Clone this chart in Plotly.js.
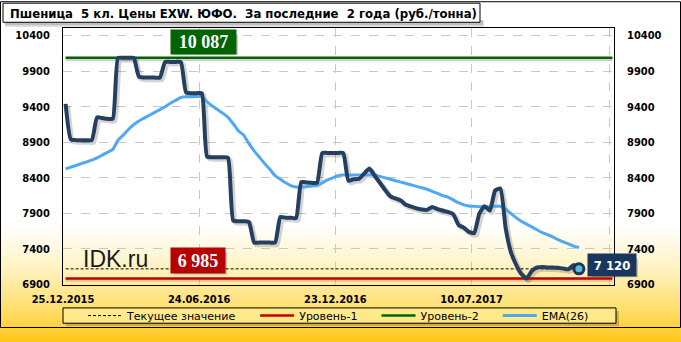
<!DOCTYPE html>
<html>
<head>
<meta charset="utf-8">
<script src="https://cdn.plot.ly/plotly-3.0.1.min.js"></script>
<style>
html, body { margin: 0; padding: 0; }
#chart {
  width: 681px; height: 342px;
  background: linear-gradient(to bottom, #ffffff 0%, #ffffff 66%, #fff3c4 78%, #ffdf6e 90%, #ffc61a 100%);
}
</style>
</head>
<body>
<div id="chart"></div>
<script>
// ---- data (weekly) ----
const tickLabels = ['25.12.2015', '24.06.2016', '23.12.2016', '10.07.2017', ''];
const tickPositions = [-0.5, 25.5, 51.5, 77.5, 103.8];

const price = [
  9440, 8940, 8930, 8930, 8930, 8930, 9250, 9240, 9230, 9230,
  10087, 10087, 10087, 10087, 9820, 9810, 9810, 9810, 9810, 10030,
  10030, 10030, 10030, 9600, 9590, 9590, 9590, 8700, 8690, 8690,
  8690, 8680, 7800, 7790, 7790, 7780, 7490, 7490, 7490, 7490,
  7490, 7850, 7840, 7840, 7835, 8340, 8335, 8330, 8330, 8750,
  8750, 8750, 8750, 8750, 8360, 8380, 8385, 8460, 8530, 8430,
  8330, 8230, 8140, 8110, 8080, 8020, 7995, 7970, 7955, 7950,
  7990, 7960, 7940, 7920, 7890, 7740, 7700, 7640, 7625, 7900,
  8000, 7940, 8220, 8250, 7700, 7360, 7180, 7050, 6985, 7090,
  7140, 7145, 7140, 7140, 7135, 7125, 7115, 7175, 7120
];

const ema26 = [
  8525, 8550, 8575, 8600, 8625, 8650, 8680, 8720, 8760, 8800,
  8930, 9000, 9080, 9150, 9200, 9240, 9280, 9320, 9360, 9400,
  9450, 9490, 9530, 9540, 9540, 9545, 9545, 9470, 9410, 9360,
  9310, 9250, 9160, 9060, 9000, 8880, 8780, 8690, 8600, 8520,
  8430, 8380, 8330, 8290, 8270, 8270, 8275, 8285, 8295, 8330,
  8370, 8400, 8430, 8440, 8440, 8440, 8440, 8440, 8440, 8440,
  8420, 8400, 8380, 8360, 8340, 8320, 8300, 8280, 8260, 8240,
  8210, 8180, 8150, 8130, 8090, 8050, 8020, 8005, 8000, 7995,
  7995, 7995, 8000, 8000, 7960, 7900, 7840, 7790, 7750, 7710,
  7670, 7630, 7600, 7570, 7530, 7500, 7470, 7440, 7420
];

const level1 = 6985;   // Уровень-1
const level2 = 10087;  // Уровень-2
const currentValue = 7120;
const yTicks = [6900, 7400, 7900, 8400, 8900, 9400, 9900, 10400];
const yTickLabels = ['6900', '7400', '7900', '8400', '8900', '9400', '9900', '10400'];
const legendNames = ['Текущее значение', 'Уровень-1', 'Уровень-2', 'EMA(26)'];

// ---- layout helpers ----
const W = 681, H = 342;
const M = { l: 63, r: 67, t: 28, b: 45 };
const PW = W - M.l - M.r, PH = H - M.t - M.b;
const px = v => (v - M.l) / PW;        // pixel x -> paper
const py = v => (H - M.b - v) / PH;    // pixel y -> paper

const idx = price.map((_, i) => i);
const lastIdx = idx[idx.length - 1];
const levelEnd = 104.4;
const fmt = v => String(v).replace(/\B(?=(\d{3})+(?!\d))/g, ' ');
const pad = '\u00A0'.repeat(4);

const F = '"DejaVu Sans Condensed", "DejaVu Sans", sans-serif';

const traces = [
  // shadows
  { x: [0, levelEnd], y: [level2 - 25, level2 - 25], mode: 'lines', line: { color: 'rgba(0,0,0,0.18)', width: 3 }, showlegend: false, hoverinfo: 'skip' },
  { x: [0, levelEnd], y: [level1 - 25, level1 - 25], mode: 'lines', line: { color: 'rgba(0,0,0,0.15)', width: 3 }, showlegend: false, hoverinfo: 'skip' },
  { x: idx.map(i => i + 0.4), y: price.map(v => v - 30), mode: 'lines', line: { color: 'rgba(0,0,0,0.17)', width: 5, shape: 'spline', smoothing: 0.5 }, showlegend: false, hoverinfo: 'skip' },
  // legend traces
  { name: legendNames[0] + pad, x: [0, lastIdx], y: [currentValue, currentValue], mode: 'lines', line: { color: '#000000', width: 1, dash: '3px,2px' } },
  { name: legendNames[1] + pad, x: [0, levelEnd], y: [level1, level1], mode: 'lines', line: { color: '#c00000', width: 2.5 } },
  { name: legendNames[2] + pad, x: [0, levelEnd], y: [level2, level2], mode: 'lines', line: { color: '#006400', width: 2.5 } },
  { name: legendNames[3], x: idx, y: ema26, mode: 'lines', line: { color: '#4ea8f2', width: 3, shape: 'spline', smoothing: 0.6 } },
  // main price
  { name: 'Цена', x: idx, y: price, mode: 'lines', line: { color: '#243f60', width: 4, shape: 'spline', smoothing: 0.5 }, showlegend: false },
  // last point marker
  { x: [lastIdx], y: [price[lastIdx]], mode: 'markers', marker: { size: 10, color: '#5bbad8', line: { color: '#1b365d', width: 3 } }, showlegend: false, hoverinfo: 'skip' },
  // right axis carrier
  { x: [0], y: [yTicks[0]], yaxis: 'y2', mode: 'markers', marker: { opacity: 0 }, showlegend: false, hoverinfo: 'skip' }
];

const tickFont = { family: F, size: 11, color: '#000000', weight: 'bold' };

const layout = {
  width: W, height: H,
  margin: M,
  paper_bgcolor: 'rgba(0,0,0,0)',
  plot_bgcolor: 'rgba(0,0,0,0)',
  showlegend: true,
  xaxis: {
    range: [-0.5, 104.7],
    tickvals: tickPositions, ticktext: tickLabels,
    showgrid: true, gridcolor: '#c8c8c8', griddash: 'dash', gridwidth: 1,
    zeroline: false, showline: true, mirror: true, linecolor: '#000000', linewidth: 1,
    ticks: '', ticklabelstandoff: 4,
    tickfont: tickFont
  },
  yaxis: {
    range: [6893, 10507],
    tickvals: yTicks, ticktext: yTickLabels,
    showgrid: true, gridcolor: '#c8c8c8', griddash: 'dash', gridwidth: 1,
    zeroline: false, showline: true, mirror: true, linecolor: '#000000', linewidth: 1,
    ticks: '', ticklabelstandoff: 10,
    tickfont: tickFont
  },
  yaxis2: {
    overlaying: 'y', side: 'right',
    range: [6893, 10507],
    tickvals: yTicks, ticktext: yTickLabels,
    showgrid: false, zeroline: false, showline: false,
    ticks: '', ticklabelstandoff: 12,
    tickfont: tickFont
  },
  legend: {
    orientation: 'h',
    x: px(83), xanchor: 'left',
    y: py(329), yanchor: 'middle',
    bgcolor: 'rgba(0,0,0,0)', borderwidth: 0,
    font: { family: '"DejaVu Sans", sans-serif', size: 11, color: '#000000' },
    itemwidth: 34
  },
  shapes: [
    // outer border
    { type: 'rect', xref: 'paper', yref: 'paper', x0: px(0.5), x1: px(680.5), y0: py(341.5), y1: py(0.5), line: { color: '#000000', width: 1 }, layer: 'below' },
    // title box shadow + box
    { type: 'rect', xref: 'paper', yref: 'paper', x0: px(5), x1: px(484), y0: py(27), y1: py(20), line: { width: 0 }, fillcolor: 'rgba(0,0,0,0.12)', layer: 'below' },
    { type: 'rect', xref: 'paper', yref: 'paper', x0: px(5), x1: px(483), y0: py(25), y1: py(20), line: { width: 0 }, fillcolor: 'rgba(0,0,0,0.15)', layer: 'below' },
    { type: 'rect', xref: 'paper', yref: 'paper', x0: px(3), x1: px(480), y0: py(22), y1: py(2), line: { color: '#000000', width: 1 }, fillcolor: '#ffffff', layer: 'below' },
    // legend box shadow + box
    { type: 'rect', xref: 'paper', yref: 'paper', x0: px(66), x1: px(619), y0: py(340), y1: py(324), line: { width: 0 }, fillcolor: 'rgba(0,0,0,0.18)', layer: 'below' },
    { type: 'rect', xref: 'paper', yref: 'paper', x0: px(63), x1: px(616), y0: py(337), y1: py(321), line: { color: '#000000', width: 1 }, fillcolor: '#ffe98a', layer: 'below' },
    // label shadows
    { type: 'rect', xref: 'paper', yref: 'paper', x0: px(174), x1: px(238), y0: py(56), y1: py(35), line: { width: 0 }, fillcolor: 'rgba(0,0,0,0.2)', layer: 'above' },
    { type: 'rect', xref: 'paper', yref: 'paper', x0: px(174), x1: px(227), y0: py(286), y1: py(263), line: { width: 0 }, fillcolor: 'rgba(0,0,0,0.2)', layer: 'above' },
    { type: 'rect', xref: 'paper', yref: 'paper', x0: px(592), x1: px(638), y0: py(289), y1: py(270), line: { width: 0 }, fillcolor: 'rgba(0,0,0,0.2)', layer: 'above' }
  ],
  annotations: [
    { text: 'Пшеница  5 кл. Цены EXW. ЮФО.  За последние  2 года (руб./тонна)', xref: 'paper', yref: 'paper', x: px(8), y: py(12.5), xanchor: 'left', yanchor: 'middle', showarrow: false, font: { family: F, size: 13, color: '#000000', weight: 'bold' } },
    { text: fmt(level2), xref: 'paper', yref: 'paper', x: px(203.5), y: py(42.5), xanchor: 'center', yanchor: 'middle', width: 63, height: 22, showarrow: false, bgcolor: '#006400', font: { family: '"Liberation Serif", serif', size: 18, color: '#ffffff', weight: 'bold' } },
    { text: fmt(level1), xref: 'paper', yref: 'paper', x: px(198), y: py(271.5), xanchor: 'center', yanchor: 'middle', width: 52, height: 23, showarrow: false, bgcolor: '#b80000', font: { family: '"Liberation Serif", serif', size: 18, color: '#ffffff', weight: 'bold' } },
    { text: fmt(price[lastIdx]), xref: 'paper', yref: 'paper', x: px(612.3), y: py(276.3), xanchor: 'center', yanchor: 'middle', width: 46, height: 20, showarrow: false, bgcolor: '#1b365d', font: { family: F, size: 13, color: '#ffffff', weight: 'bold' } },
    { text: 'IDK.ru', xref: 'paper', yref: 'paper', x: px(81), y: py(269.5), xanchor: 'left', yanchor: 'middle', showarrow: false, font: { family: '"Liberation Sans", Arial, sans-serif', size: 23, color: '#1a1a1a' } }
  ]
};

Plotly.newPlot('chart', traces, layout, { displayModeBar: false, staticPlot: true });
</script>
</body>
</html>
